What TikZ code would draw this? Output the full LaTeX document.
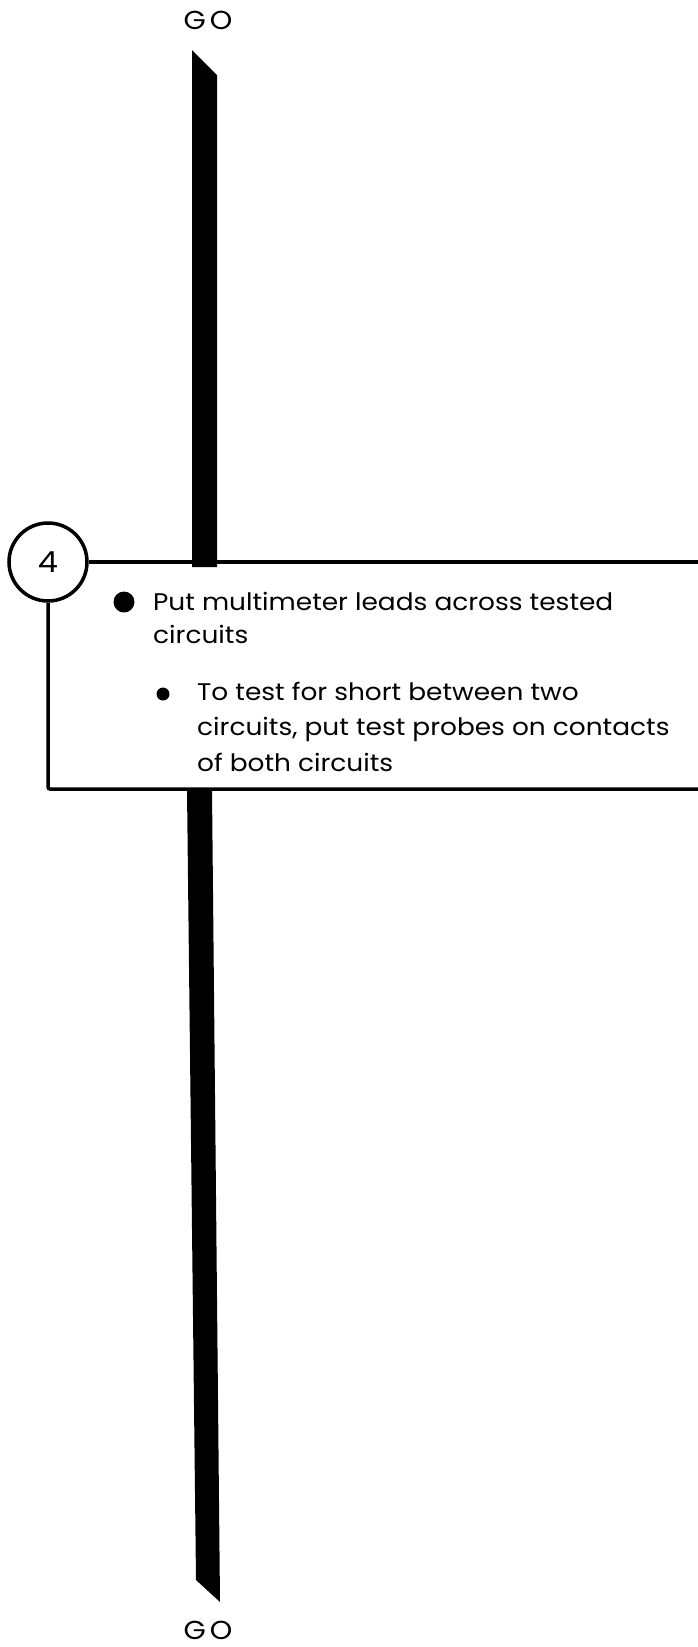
\documentclass[tikz,border=0pt]{standalone}
\usepackage{fontspec}
\setmainfont{Poppins}[FakeStretch=1.1]
\usetikzlibrary{positioning,calc}

\begin{document}
\begin{tikzpicture}[
    x=1pt, y=-1pt,
    golabel/.style={
        font=\fontsize{26}{30}\selectfont\addfontfeature{LetterSpace=16},
        inner sep=0pt
    },
    stepnum/.style={
        draw=black,
        line width=3.5pt,
        circle,
        minimum size=78pt,
        inner sep=0pt,
        font=\fontsize{29}{34}\selectfont
    },
    boxline/.style={
        black,
        line width=3.5pt
    },
    textline/.style={
        anchor=base west,
        inner sep=0pt,
        font=\fontsize{24}{28}\selectfont
    },
    bigdot/.style={circle, fill=black, inner sep=0pt, minimum size=21pt},
    smalldot/.style={circle, fill=black, inner sep=0pt, minimum size=13pt}
]

% page frame
\useasboundingbox (0,0) rectangle (698,1647);

% go labels
\node[golabel] (gotop) at (208,20) {GO};
\node[golabel] (gobot) at (208,1630) {GO};

% flow bar above and below the step box
\fill[black] (192,50) -- (217,75) -- (217,567) -- (192,567) -- cycle;
\fill[black] (187,790) -- (212,790) -- (220,1602) -- (196,1580) -- cycle;

% step number
\node[stepnum] (step4) at (48,562) {4};

% step box
\coordinate (boxtr) at (705,566);
\coordinate (boxbr) at (705,789);
\draw[boxline] (step4.east) -- (step4.east -| boxtr);
\draw[boxline, rounded corners=2pt] (step4.south) |- (boxbr);

% bullets
\node[bigdot] (dot1) at (124,602) {};
\node[smalldot] (dot2) at (163,694) {};

% texts
\node[textline] (line1a) at (153,610) {Put multimeter leads across tested};
\node[textline] (line1b) at (153,643) {circuits};
\node[textline] (line2a) at (197,700) {To test for short between two};
\node[textline] (line2b) at (197,735) {circuits, put test probes on contacts};
\node[textline] (line2c) at (197,771) {of both circuits};

\end{tikzpicture}
\end{document}
